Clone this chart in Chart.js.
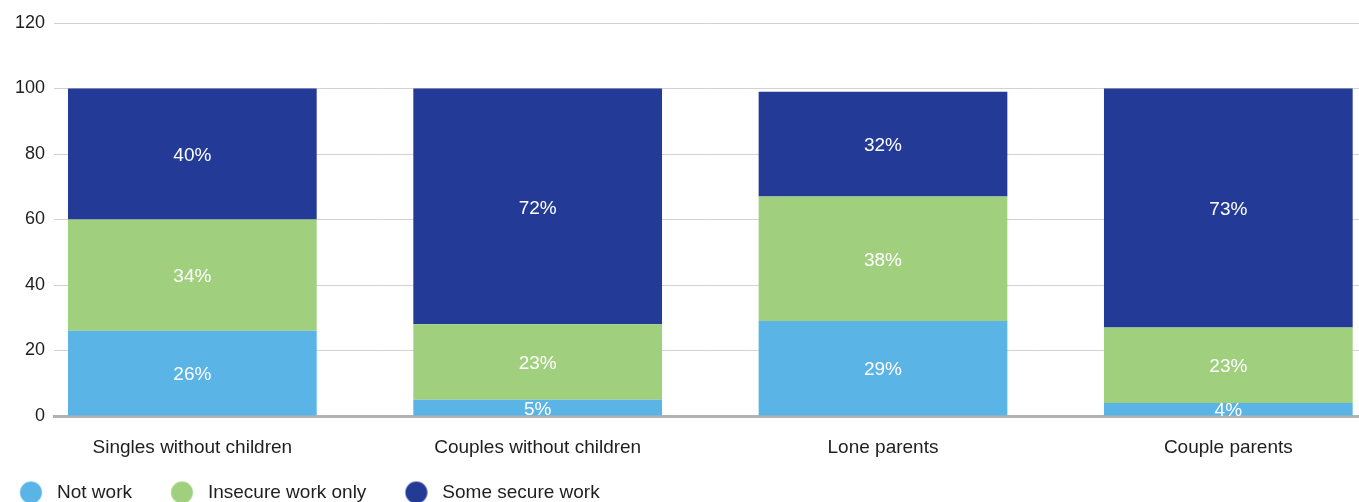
<!DOCTYPE html>
<html>
<head>
<meta charset="utf-8">
<script src="https://cdn.jsdelivr.net/npm/chart.js@4/dist/chart.umd.min.js"></script>
<style>
  html, body { margin: 0; padding: 0; overflow: hidden; background: #fff; }
  #wrap { width: 1359px; height: 512px; }
</style>
</head>
<body>
<div id="wrap"><canvas id="work" width="1359" height="512"></canvas></div>
<script>
var categories = ['Singles without children', 'Couples without children', 'Lone parents', 'Couple parents']
var notWork = [26, 5, 29, 4]
var insecureOnly = [34, 23, 38, 23]
var someSecure = [40, 72, 32, 73]
var yTicks = [0, 20, 40, 60, 80, 100, 120]

var FONT = '"Liberation Sans", Arial, Helvetica, sans-serif'

// legend marker: a circle sitting left of the box centre
function dot(color) {
  var c = document.createElement('canvas')
  c.width = 60
  c.height = 24
  var g = c.getContext('2d')
  g.fillStyle = color
  g.beginPath()
  g.arc(36.75, 12, 11, 0, Math.PI * 2)
  g.fill()
  return c
}

function points(values) {
  return values.map(function(v, i) { return {x: i, y: v} })
}

function makeSet(label, values, color) {
  return {
    label: label,
    data: points(values),
    backgroundColor: color,
    borderWidth: 0,
    pointStyle: dot(color),
    categoryPercentage: 1,
    barPercentage: 0.7202
  }
}

// white % labels in the middle of every segment
var segmentLabels = {
  id: 'segmentLabels',
  afterDatasetsDraw: function(chart) {
    var ctx = chart.ctx
    ctx.save()
    ctx.font = '19px ' + FONT
    ctx.fillStyle = '#ffffff'
    ctx.textAlign = 'center'
    ctx.textBaseline = 'middle'
    chart.data.datasets.forEach(function(ds, i) {
      chart.getDatasetMeta(i).data.forEach(function(bar, j) {
        ctx.fillText(ds.data[j].y + '%', bar.x, (bar.y + bar.base) / 2 + 2)
      })
    })
    ctx.restore()
  }
}

new Chart(document.getElementById('work'), {
  type: 'bar',
  data: {
    datasets: [
      makeSet('Not work', notWork, '#5ab4e6'),
      makeSet('Insecure work only', insecureOnly, '#a0d07e'),
      makeSet('Some secure work', someSecure, '#233b96')
    ]
  },
  plugins: [segmentLabels],
  options: {
    responsive: false,
    devicePixelRatio: 1,
    animation: false,
    layout: { padding: { top: 23, left: -19, right: 0, bottom: 0 } },
    plugins: {
      tooltip: { enabled: false },
      legend: {
        position: 'bottom',
        align: 'start',
        labels: {
          usePointStyle: true,
          pointStyleWidth: 46.5,
          padding: 20,
          color: '#1e1e1e',
          font: { family: FONT, size: 19 }
        }
      }
    },
    scales: {
      x: {
        type: 'linear',
        stacked: true,
        offset: false,
        min: -0.4006,
        max: 3.3784,
        grid: { display: false, offset: false },
        border: { color: '#b2b2b2', width: 3 },
        afterBuildTicks: function(scale) {
          scale.ticks = categories.map(function(c, i) { return {value: i} })
        },
        afterFit: function(scale) { scale.height = 47 },
        ticks: {
          autoSkip: false,
          maxRotation: 0,
          padding: 12,
          color: '#1e1e1e',
          font: { family: FONT, size: 19 },
          callback: function(value) { return categories[value] }
        }
      },
      y: {
        stacked: true,
        min: 0,
        max: 120,
        grid: { color: '#d2d2d2', drawTicks: false },
        border: { display: false },
        afterBuildTicks: function(scale) {
          scale.ticks = yTicks.map(function(v) { return {value: v} })
        },
        afterFit: function(scale) { scale.width = 73 },
        ticks: {
          padding: 9,
          color: '#1e1e1e',
          font: { family: FONT, size: 18 }
        }
      }
    }
  }
})
</script>
</body>
</html>
